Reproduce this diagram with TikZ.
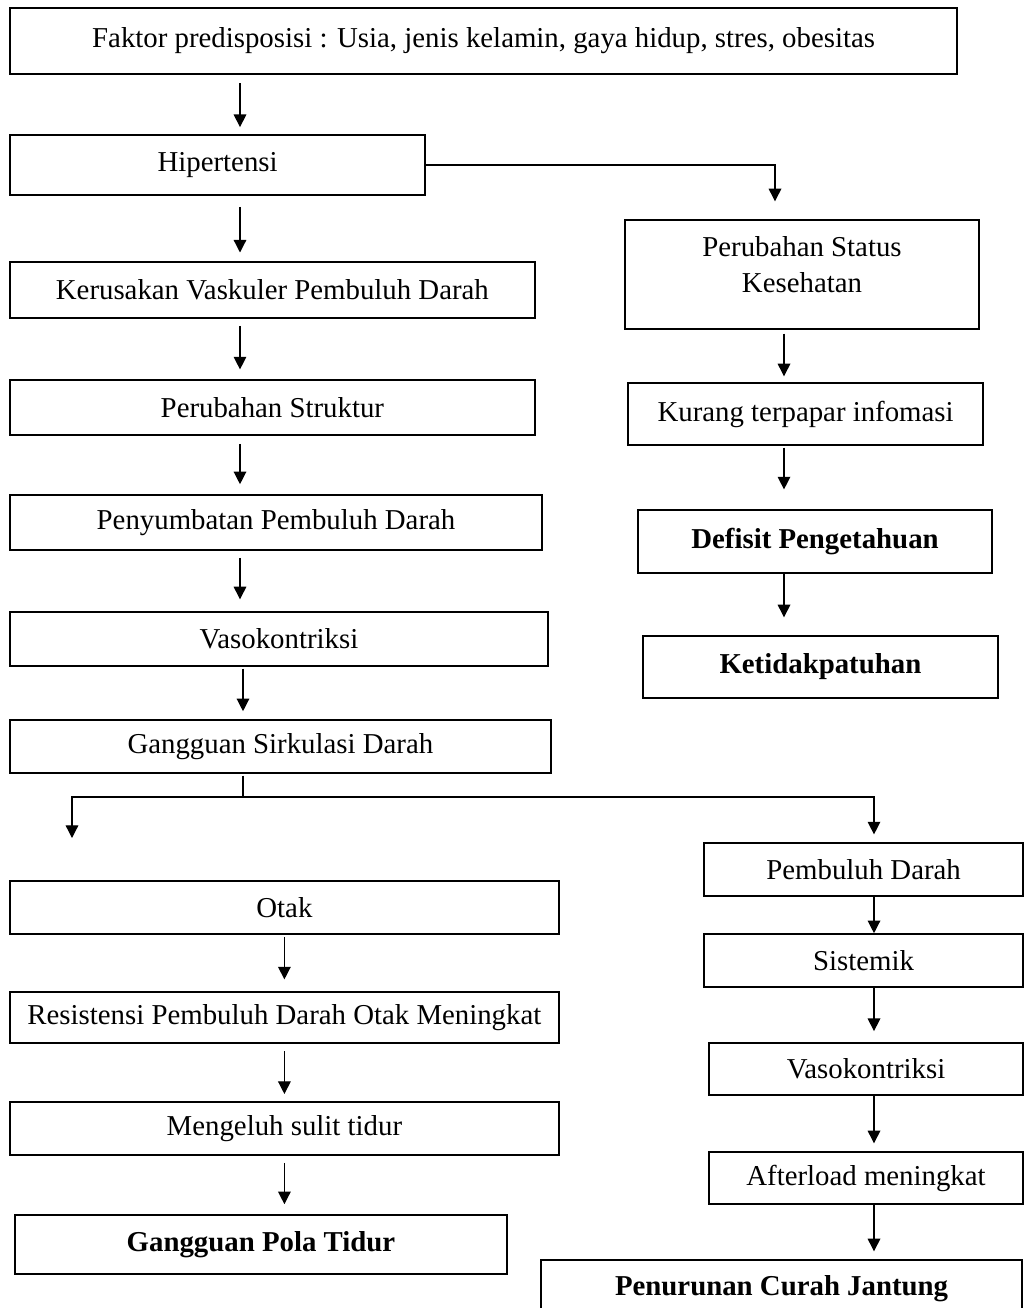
\documentclass[tikz,border=0pt]{standalone}
\usepackage{fontspec}
\setmainfont{Liberation Serif}
\usetikzlibrary{arrows.meta}

\begin{document}
\begin{tikzpicture}[>={Triangle[width=9pt,length=9pt]},line width=0.9pt,box/.style={draw,line width=1pt,minimum height=1.4cm,font=\fontsize{20.5}{25.5}\selectfont}]

\useasboundingbox (0,0) rectangle (25.9,-32.7);

\node (F) at (12.09,-1.025) [box,line width=1.6pt,minimum width=23.675cm,minimum height=1.65cm] {Faktor predisposisi : Usia, jenis kelamin, gaya hidup, stres, obesitas};
\node (H) at (5.44,-4.125) [box,minimum width=10.375cm,minimum height=1.5cm] {Hipertensi};
\node (K) at (6.81,-7.25) [box,minimum width=13.125cm] {Kerusakan Vaskuler Pembuluh Darah};
\node (PS) at (6.81,-10.19) [box,minimum width=13.125cm,minimum height=1.375cm] {Perubahan Struktur};
\node (PD) at (6.9,-13.06) [box,minimum width=13.3cm,minimum height=1.375cm] {Penyumbatan Pembuluh Darah};
\node (V1) at (6.975,-15.975) [box,minimum width=13.45cm,minimum height=1.35cm] {Vasokontriksi};
\node (GS) at (7.01,-18.66) [box,minimum width=13.525cm,minimum height=1.325cm] {Gangguan Sirkulasi Darah};
\node (O) at (7.11,-22.69) [box,minimum width=13.725cm,minimum height=1.325cm] {Otak};
\node (R) at (7.11,-25.44) [box,minimum width=13.725cm,minimum height=1.275cm] {Resistensi Pembuluh Darah Otak Meningkat};
\node (M) at (7.11,-28.21) [box,minimum width=13.725cm,minimum height=1.325cm] {Mengeluh sulit tidur};
\node (GP) at (6.525,-31.11) [box,minimum width=12.3cm,minimum height=1.475cm] {\bfseries Gangguan Pola Tidur};

\node (SK) at (20.05,-6.8625) [box,minimum width=8.85cm,minimum height=2.725cm] {\raisebox{0pt}[0pt][0pt]{\begin{tabular}{@{}c@{}}Perubahan Status\\Kesehatan\end{tabular}}};
\node (KT) at (20.14,-10.35) [box,minimum width=8.875cm,minimum height=1.55cm] {Kurang terpapar infomasi};
\node (DP) at (20.375,-13.54) [box,minimum width=8.85cm,minimum height=1.575cm] {\bfseries Defisit Pengetahuan};
\node (KP) at (20.51,-16.675) [box,minimum width=8.875cm,minimum height=1.55cm] {\bfseries Ketidakpatuhan};
\node (PB) at (21.59,-21.74) [box,minimum width=7.975cm,minimum height=1.325cm] {Pembuluh Darah};
\node (S) at (21.59,-24.01) [box,minimum width=7.975cm,minimum height=1.325cm] {Sistemik};
\node (V2) at (21.65,-26.725) [box,minimum width=7.85cm,minimum height=1.3cm] {Vasokontriksi};
\node (A) at (21.65,-29.45) [box,minimum width=7.85cm,minimum height=1.3cm] {Afterload meningkat};
\node (PC) at (19.54,-32.225) [box,minimum width=12.025cm,minimum height=1.45cm] {\bfseries Penurunan Curah Jantung};

\coordinate (c1) at (6,0);
\coordinate (c2) at (6.075,0);
\coordinate (c3) at (19.375,0);
\coordinate (c7) at (19.6,0);
\coordinate (c8) at (21.85,0);
\coordinate (j) at (6.075,-19.925);
\coordinate (l) at (1.8,-20.95);

\draw [->,shorten <=0.2cm,shorten >=0.18cm] (F.south -| c1) -- (H.north -| c1);
\draw [->,shorten <=0.28cm,shorten >=0.22cm] (H.south -| c1) -- (K.north -| c1);
\draw [->,shorten <=0.18cm,shorten >=0.25cm] (K.south -| c1) -- (PS.north -| c1);
\draw [->,shorten <=0.2cm,shorten >=0.25cm] (PS.south -| c1) -- (PD.north -| c1);
\draw [->,shorten <=0.18cm,shorten >=0.3cm] (PD.south -| c1) -- (V1.north -| c1);
\draw [->,shorten <=0.05cm,shorten >=0.2cm] (V1.south -| c2) -- (GS.north -| c2);
\draw [->,shorten >=0.45cm] (H.east) -| (SK.north -| c3);

\draw [shorten <=0.05cm] (GS.south -| c2) -- (j);
\draw [->] (j) -| (l);
\draw [->,shorten >=0.2cm] (j) -| (PB.north -| c8);
\draw [->,shorten <=0.05cm,shorten >=0.3cm] (O) -- (R);
\draw [->,shorten <=0.18cm,shorten >=0.18cm] (R) -- (M);
\draw [->,shorten <=0.18cm,shorten >=0.25cm] (M.south) -- (M.south |- GP.north);

\draw [->,shorten <=0.1cm,shorten >=0.15cm] (SK.south -| c7) -- (KT.north -| c7);
\draw [->,shorten <=0.05cm,shorten >=0.5cm] (KT.south -| c7) -- (DP.north -| c7);
\draw [->,shorten >=0.45cm] (DP.south -| c7) -- (KP.north -| c7);
\draw [->] (PB.south -| c8) -- (S.north -| c8);
\draw [->,shorten >=0.28cm] (S.south -| c8) -- (V2.north -| c8);
\draw [->,shorten >=0.2cm] (V2.south -| c8) -- (A.north -| c8);
\draw [->,shorten >=0.2cm] (A.south -| c8) -- (PC.north -| c8);

\end{tikzpicture}
\end{document}
